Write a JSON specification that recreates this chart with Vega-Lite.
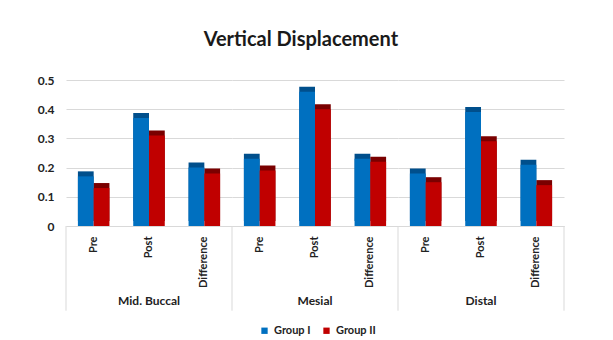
{
  "$schema": "https://vega.github.io/schema/vega-lite/v6.json",
  "padding": {"left": 37, "top": 30, "right": 30, "bottom": 5},
  "background": "white",
  "bounds": "flush",
  "title": {"text": "Vertical Displacement", "fontSize": 20, "font": "Lato", "fontWeight": "bold", "color": "#1a1a1a", "offset": 24, "anchor": "middle"},
  "data": {"values": [
    {"location": "Mid. Buccal", "stage": "Pre", "group": "Group I", "value": 0.17},
    {"location": "Mid. Buccal", "stage": "Pre", "group": "Group II", "value": 0.13},
    {"location": "Mid. Buccal", "stage": "Post", "group": "Group I", "value": 0.37},
    {"location": "Mid. Buccal", "stage": "Post", "group": "Group II", "value": 0.31},
    {"location": "Mid. Buccal", "stage": "Difference", "group": "Group I", "value": 0.2},
    {"location": "Mid. Buccal", "stage": "Difference", "group": "Group II", "value": 0.18},
    {"location": "Mesial", "stage": "Pre", "group": "Group I", "value": 0.23},
    {"location": "Mesial", "stage": "Pre", "group": "Group II", "value": 0.19},
    {"location": "Mesial", "stage": "Post", "group": "Group I", "value": 0.46},
    {"location": "Mesial", "stage": "Post", "group": "Group II", "value": 0.4},
    {"location": "Mesial", "stage": "Difference", "group": "Group I", "value": 0.23},
    {"location": "Mesial", "stage": "Difference", "group": "Group II", "value": 0.22},
    {"location": "Distal", "stage": "Pre", "group": "Group I", "value": 0.18},
    {"location": "Distal", "stage": "Pre", "group": "Group II", "value": 0.15},
    {"location": "Distal", "stage": "Post", "group": "Group I", "value": 0.39},
    {"location": "Distal", "stage": "Post", "group": "Group II", "value": 0.29},
    {"location": "Distal", "stage": "Difference", "group": "Group I", "value": 0.21},
    {"location": "Distal", "stage": "Difference", "group": "Group II", "value": 0.14}
  ]},
  "facet": {
    "column": {
      "field": "location", "type": "nominal", "sort": ["Mid. Buccal", "Mesial", "Distal"], "title": null,
      "header": {"labelOrient": "bottom", "labelFont": "Lato", "labelFontWeight": "bold", "labelFontSize": 12, "labelColor": "#222", "labelPadding": 9}
    }
  },
  "spacing": 0,
  "spec": {
    "width": 166,
    "height": 146,
    "encoding": {
      "x": {"field": "stage", "type": "nominal", "sort": ["Pre", "Post", "Difference"], "title": null,
        "scale": {"paddingInner": 0, "paddingOuter": 0},
        "axis": {"labelAngle": -90, "labelFont": "Lato", "labelFontWeight": "bold", "labelFontSize": 11, "labelColor": "#222", "ticks": false, "domainColor": "#d9d9d9", "labelPadding": 10}},
      "y": {"field": "value", "type": "quantitative", "title": null,
        "scale": {"domain": [0, 0.5], "nice": false},
        "axis": {"values": [0, 0.05, 0.1, 0.15, 0.2, 0.25, 0.3, 0.35, 0.4, 0.45, 0.5], "labelOverlap": false, "format": ".2~f", "domain": false, "ticks": false, "labelFont": "Lato", "labelFontWeight": "bold", "labelFontSize": 12, "labelColor": "#222", "labelPadding": 12, "grid": true, "gridColor": "#d9d9d9"}}
    },
    "layer": [
      {
        "mark": {"type": "bar", "xOffset": 9, "yOffset": -5},
        "encoding": {
          "xOffset": {"field": "group", "type": "nominal", "scale": {"paddingInner": 0, "paddingOuter": 0.755}},
          "color": {"condition": {"test": "datum.group == 'Group I'", "value": "#004f8c"}, "value": "#7a0000"}
        }
      },
      {
        "mark": {"type": "bar", "xOffset": 4},
        "encoding": {
          "xOffset": {"field": "group", "type": "nominal", "scale": {"paddingInner": 0, "paddingOuter": 0.755}},
          "color": {"field": "group", "type": "nominal", "scale": {"domain": ["Group I", "Group II"], "range": ["#0070c0", "#c00000"]},
            "legend": {"orient": "none", "legendX": 193, "legendY": 245, "direction": "horizontal", "title": null, "symbolType": "square", "symbolSize": 40, "symbolStrokeWidth": 0, "columnPadding": 10, "labelFont": "Lato", "labelFontWeight": "bold", "labelFontSize": 11, "labelColor": "#222"}}
        }
      },
      {
        "transform": [{"filter": "datum.stage == 'Pre' && datum.group == 'Group I'"}],
        "mark": {"type": "rule", "color": "#d9d9d9", "strokeWidth": 1},
        "encoding": {
          "x": {"datum": "Pre", "type": "nominal", "bandPosition": 0},
          "y": {"datum": 0, "type": "quantitative"},
          "y2": {"datum": -0.29}
        }
      },
      {
        "transform": [{"filter": "datum.location == 'Distal' && datum.stage == 'Difference' && datum.group == 'Group I'"}],
        "mark": {"type": "rule", "color": "#d9d9d9", "strokeWidth": 1},
        "encoding": {
          "x": {"datum": "Difference", "type": "nominal", "bandPosition": 1},
          "y": {"datum": 0, "type": "quantitative"},
          "y2": {"datum": -0.29}
        }
      }
    ]
  },
  "config": {"view": {"stroke": null}, "axisY": {"tickCount": 10}}
}
